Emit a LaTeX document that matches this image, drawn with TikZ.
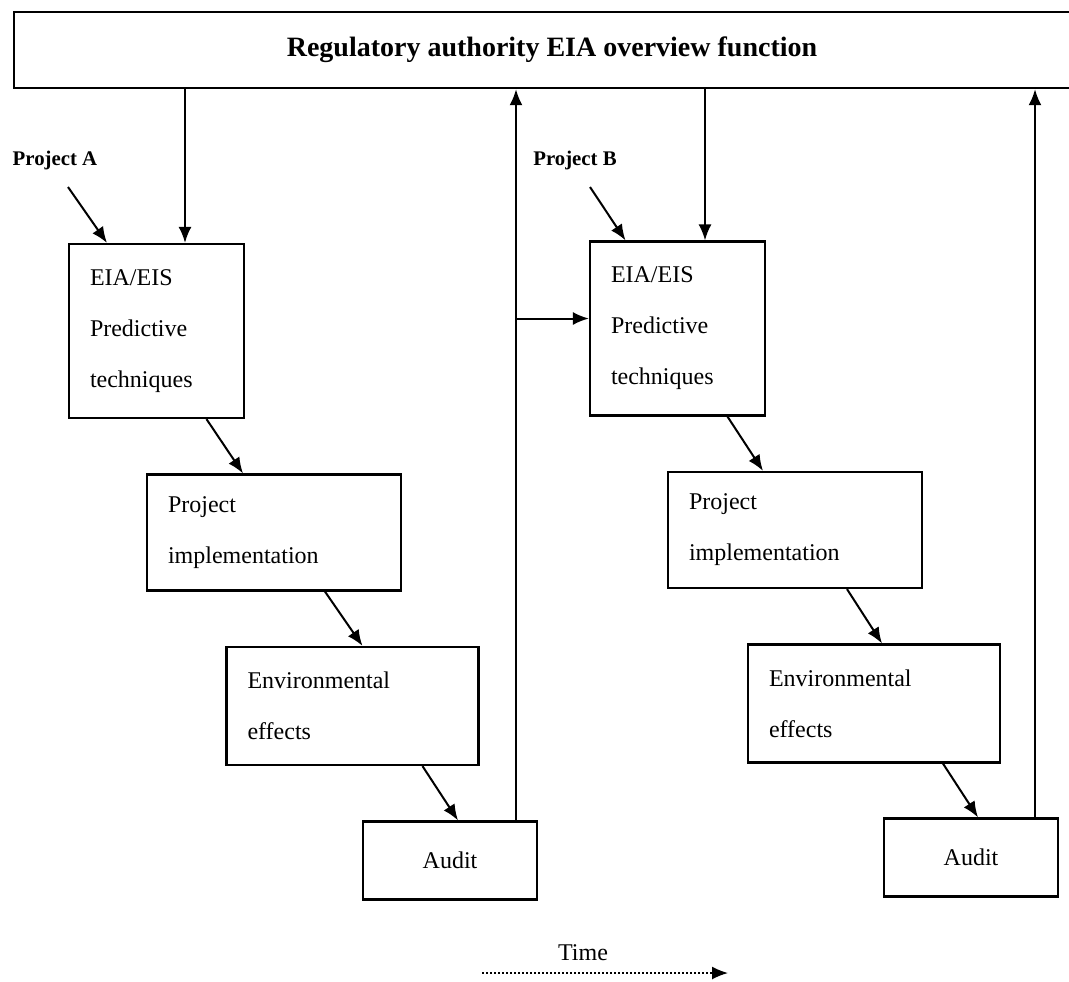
\documentclass[tikz,border=0pt]{standalone}
\usepackage{fontspec}
\setmainfont{Liberation Serif}
\usetikzlibrary{arrows.meta}
\begin{document}
\begin{tikzpicture}[x=0.5pt, y=-0.5pt]
\tikzset{boite/.style={draw=black, line width=1.1pt, inner xsep=10.5pt, inner ysep=0pt, align=left, font=\fontsize{12}{25.5}\selectfont}, fleche/.style={>={Latex[length=8pt,width=6.5pt]}, ->, line width=1pt}, etiquette/.style={font=\bfseries\fontsize{10.4}{12}\selectfont}};
\useasboundingbox (0,0) rectangle (1069,981);

\node[draw=black, line width=1.2pt, minimum width=538pt, minimum height=38pt, font=\bfseries\fontsize{14}{16}\selectfont] (regul) at (552,50) {Regulatory authority EIA overview function};

% projet A
\node[etiquette] (projA) at (55,160) {Project A};
\node[boite, text width=66.5pt, minimum height=87pt] (eiaA) at (156.5,331) {EIA/EIS\\Predictive\\techniques};
\node[boite, text width=106pt, minimum height=58pt] (implA) at (274,532.5) {Project\\implementation};
\node[boite, text width=105pt, minimum height=59pt] (envA) at (352.5,706) {Environmental\\effects};
\node[boite, align=center, minimum width=87pt, minimum height=39pt] (auditA) at (450,860.5) {Audit};

% projet B
\node[etiquette] (projB) at (575,160) {Project B};
\node[boite, text width=66.5pt, minimum height=87pt] (eiaB) at (677.5,328.5) {EIA/EIS\\Predictive\\techniques};
\node[boite, text width=106pt, minimum height=58pt] (implB) at (795,530) {Project\\implementation};
\node[boite, text width=105pt, minimum height=59pt] (envB) at (874,703.5) {Environmental\\effects};
\node[boite, align=center, minimum width=87pt, minimum height=39pt] (auditB) at (971,857.5) {Audit};

\node[font=\fontsize{12}{14}\selectfont] (temps) at (583,953) {Time};

\coordinate (debA) at (68,187);
\coordinate (debB) at (590,187);
\coordinate (hautA) at ([xshift=14.25pt]eiaA.north);
\coordinate (hautB) at ([xshift=13.75pt]eiaB.north);
\coordinate (retA) at ([xshift=33pt]auditA.north);
\coordinate (retB) at ([xshift=32pt]auditB.north);
\coordinate (brB) at ([yshift=5pt]eiaB.west);
\coordinate (tdeb) at (482,973);
\coordinate (tfin) at (728,973);

\draw[fleche] (regul.south -| hautA) -- (hautA);
\draw[fleche] (debA) -- ([xshift=-24.75pt]eiaA.north);
\draw[fleche] ([xshift=25pt]eiaA.south) -- ([xshift=-15.5pt]implA.north);
\draw[fleche] ([xshift=25.5pt]implA.south) -- ([xshift=5pt]envA.north);
\draw[fleche] ([xshift=35pt]envA.south) -- ([xshift=4pt]auditA.north);
\draw[fleche] (retA) -- (retA |- regul.south);
\draw[fleche] (retA |- brB) -- (brB);

\draw[fleche] (regul.south -| hautB) -- (hautB);
\draw[fleche] (debB) -- ([xshift=-26pt]eiaB.north);
\draw[fleche] ([xshift=25pt]eiaB.south) -- ([xshift=-16pt]implB.north);
\draw[fleche] ([xshift=26pt]implB.south) -- ([xshift=4pt]envB.north);
\draw[fleche] ([xshift=34.5pt]envB.south) -- ([xshift=3.5pt]auditB.north);
\draw[fleche] (retB) -- (retB |- regul.south);

\draw[fleche, densely dotted, line width=0.8pt] (tdeb) -- (tfin);
\end{tikzpicture}
\end{document}
